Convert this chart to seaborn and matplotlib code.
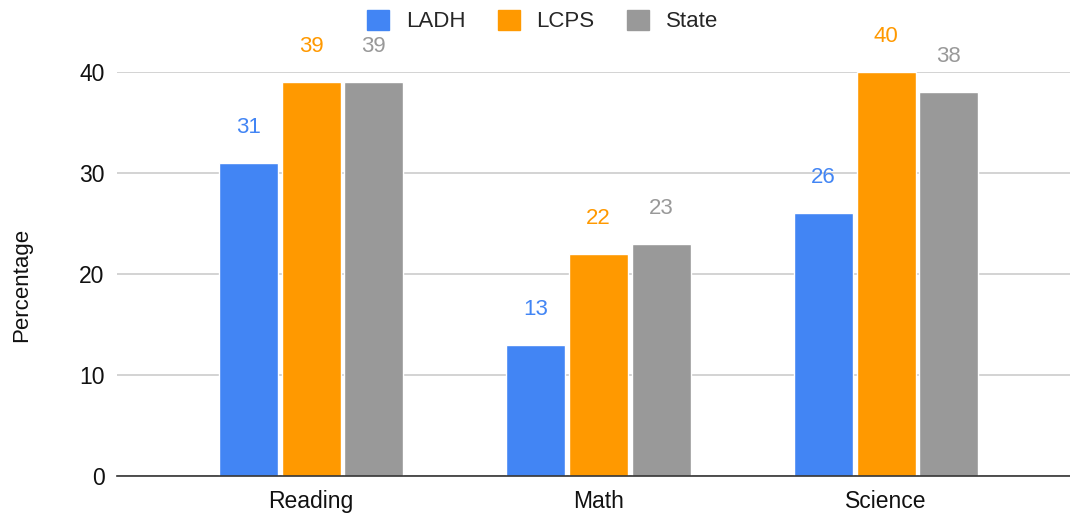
import matplotlib
matplotlib.use("Agg")
import matplotlib.pyplot as plt
import seaborn as sns
import pandas as pd

subjects = ["Reading", "Math", "Science"]
groups = ["LADH", "LCPS", "State"]
ladh = [31, 13, 26]
lcps = [39, 22, 40]
state = [39, 23, 38]
colors = ["#4285F4", "#FF9900", "#999999"]

df = pd.DataFrame({
    "Subject": subjects * 3,
    "Group": [g for g in groups for _ in subjects],
    "Percentage": ladh + lcps + state,
})

sns.set_theme(style="white")
plt.rcParams["font.family"] = ["Liberation Sans", "DejaVu Sans"]

fig = plt.figure(figsize=(10.7, 5.16), dpi=100)
ax = fig.add_axes([117 / 1070, 1 - 476 / 516, 1 - 117 / 1070, (476 - 72) / 516])

sns.barplot(data=df, x="Subject", y="Percentage", hue="Group", hue_order=groups,
            palette=colors, width=0.655, gap=0.06, saturation=1, ax=ax, legend=False)

ax.set_ylim(0, 40)
ax.set_xlim(-0.675, 2.64)
ax.set_yticks([0, 10, 20, 30, 40])
ax.yaxis.grid(True, color="#cccccc", linewidth=1.2)
ax.set_axisbelow(True)
for s in ["top", "right", "left"]:
    ax.spines[s].set_visible(False)
ax.spines["bottom"].set_color("#333333")
ax.spines["bottom"].set_linewidth(1.2)
ax.tick_params(axis="both", length=0, labelsize=16.5, colors="#111111")
ax.tick_params(axis="x", pad=10)
ax.tick_params(axis="y", pad=9)
ax.set_xlabel("")
ax.set_ylabel("Percentage", fontsize=16, color="#111111")
ax.yaxis.set_label_coords(-0.0895, 0.473)

for cont, col in zip(ax.containers, colors):
    for bar in cont:
        h = bar.get_height()
        ax.annotate(f"{h:.0f}", (bar.get_x() + bar.get_width() / 2, h),
                    xytext=(0, 25.5), textcoords="offset points",
                    ha="center", va="center", color=col, fontsize=16,
                    annotation_clip=False)

handles = [plt.Rectangle((0, 0), 1, 1, color=c) for c in colors]
fig.legend(handles, groups, loc="center", bbox_to_anchor=(0.507, 1 - 21 / 516),
           ncol=3, frameon=False, fontsize=16, handlelength=1.0, handleheight=1.0,
           handletextpad=0.75, columnspacing=1.45)

fig.savefig("out.png", dpi=100)
